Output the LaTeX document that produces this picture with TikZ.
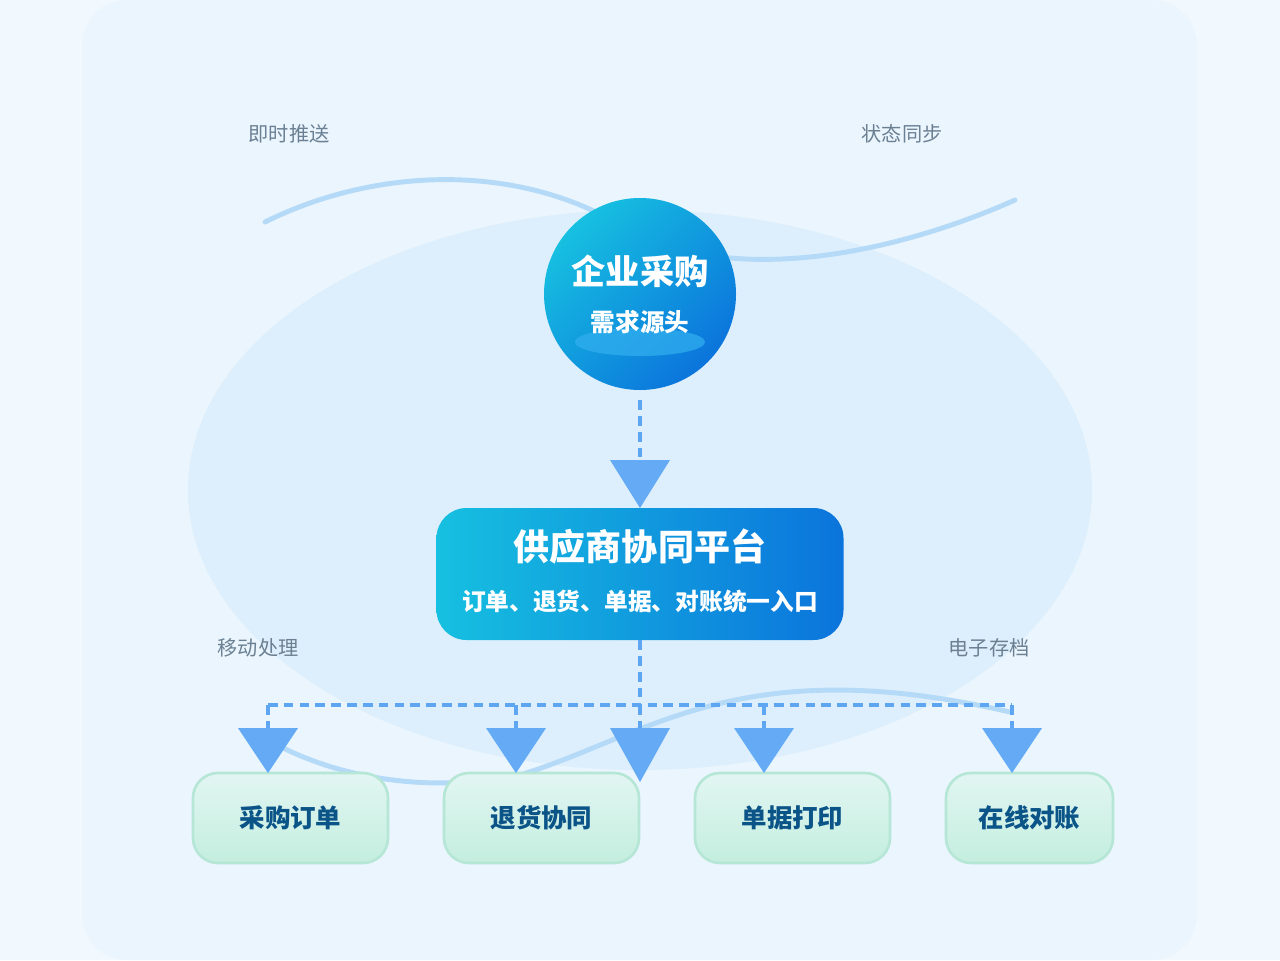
\documentclass[tikz,border=0pt]{standalone}
\usepackage{fontspec}
\setmainfont{Noto Sans CJK SC}
\usetikzlibrary{calc,shapes,backgrounds}
\definecolor{pagebg}{HTML}{F2F9FE}
\definecolor{cardbg}{HTML}{EAF5FD}
\definecolor{blob}{HTML}{DDEFFC}
\definecolor{wave}{HTML}{B4DAF8}
\definecolor{dash}{HTML}{5EA6F2}
\definecolor{tip}{HTML}{64AAF5}
\definecolor{cyanA}{HTML}{16C0E0}
\definecolor{blueA}{HTML}{0B74DC}
\definecolor{glow}{HTML}{33B0F0}
\definecolor{leafA}{HTML}{E2F6F2}
\definecolor{leafB}{HTML}{C4EEDF}
\definecolor{leafline}{HTML}{B6E6D6}
\definecolor{leaftext}{HTML}{0B5488}
\definecolor{note}{HTML}{6B8093}
\tikzset{
    hub/.style = {circle, minimum size=192*0.02cm, left color=cyanA, right color=blueA,
        shading angle=45, text=white, align=center},
    platform/.style = {rectangle, rounded corners=0.6cm, minimum width=407*0.02cm,
        minimum height=132*0.02cm, left color=cyanA, right color=blueA, text=white, align=center},
    leaf/.style = {draw=leafline, line width=1.5pt, rectangle, rounded corners=0.5cm,
        minimum height=90*0.02cm, top color=leafA, bottom color=leafB,
        text=leaftext, font=\bfseries\fontsize{14.5}{16}\selectfont},
    note/.style = {text=note, font=\fontsize{11.5}{13}\selectfont},
    link/.style = {draw=dash, line width=2.8pt, dash pattern=on 5.5pt off 3.5pt},
    wavy/.style = {draw=wave, line width=2.8pt, line cap=round}
}
\begin{document}
\begin{tikzpicture}[x=0.02cm,y=-0.02cm]
    \useasboundingbox (0,0) rectangle (1280,960);
    \fill[pagebg] (0,0) rectangle (1280,960);
    \fill[cardbg, rounded corners=0.9cm] (82,0) rectangle (1197,960);
    \fill[blob] (640,490) ellipse [x radius=452, y radius=280];
    % waves
    \draw[wavy] (265,222) .. controls (380,165) and (520,165) .. (620,225)
        .. controls (720,285) and (880,260) .. (1015,200);
    \draw[wavy] (268,740) .. controls (330,775) and (420,795) .. (520,775)
        .. controls (650,735) and (740,650) .. (1010,712);
    \node[note] (push) at (289,134) {即时推送};
    \node[note] (sync) at (902,134) {状态同步};
    \node[note] (mobile) at (258,648) {移动处理};
    \node[note] (archive) at (989,648) {电子存档};
    % hub
    \node[hub] (buyer) at (640,294) {};
    \fill[glow, opacity=0.7] (640,342) ellipse [x radius=65, y radius=14];
    \node[text=white, font=\bfseries\fontsize{19.5}{22}\selectfont] (buyert) at (640,271) {企业采购};
    \node[text=white, font=\bfseries\fontsize{14}{16}\selectfont] (buyers) at (640,322) {需求源头};
    % platform
    \node[platform] (plat) at (640,574) {};
    \node[text=white, font=\bfseries\fontsize{20.5}{23}\selectfont] (platt) at (640,547) {供应商协同平台};
    \node[text=white, font=\bfseries\fontsize{13.5}{15}\selectfont] (plats) at (640,601) {订单、退货、单据、对账统一入口};
    \coordinate (a0) at (640,460);
    \draw[link] (buyer.south) ++(0,10) -- (a0);
    \fill[tip] (640,508) -- (610,460) -- (670,460) -- cycle;
    % leaves
    \node[leaf, minimum width=195*0.02cm] (order) at (290.5,818) {采购订单};
    \node[leaf, minimum width=195*0.02cm] (refund) at (541.5,818) {退货协同};
    \node[leaf, minimum width=195*0.02cm] (print) at (792.5,818) {单据打印};
    \node[leaf, minimum width=167*0.02cm] (bill) at (1029.5,818) {在线对账};
    \coordinate (bus) at (640,705);
    \draw[link] (plat.south) -- (bus);
    \draw[link] (268,705) -- (1012,705);
    \foreach \x/\y in {268/773,516/773,640/782,764/773,1012/773} {
        \draw[link] (\x,705) -- (\x,728);
        \fill[tip] (\x,\y) -- (\x-30,728) -- (\x+30,728) -- cycle;
    }
\end{tikzpicture}
\end{document}
